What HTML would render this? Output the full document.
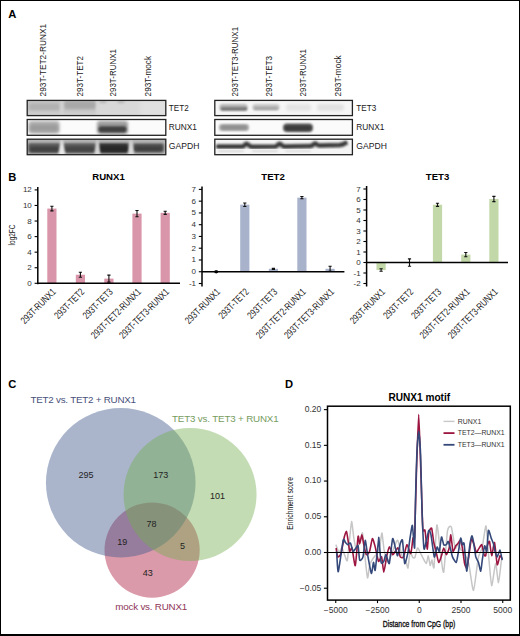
<!DOCTYPE html>
<html><head><meta charset="utf-8"><style>
html,body{margin:0;padding:0;background:#fff;}
body{width:520px;height:636px;position:relative;overflow:hidden;font-family:"Liberation Sans", sans-serif;}
.frame{position:absolute;left:0;top:0;width:520px;height:636px;box-sizing:border-box;border:1px solid #000;border-left-width:1.6px;border-bottom-width:2px;border-right-width:1.3px;}
</style></head><body>
<svg width="520" height="636" viewBox="0 0 520 636" style="position:absolute;left:0;top:0" font-family='"Liberation Sans", sans-serif'>
<defs><filter id="b9" x="-50%" y="-50%" width="200%" height="200%"><feGaussianBlur stdDeviation="0.9"/></filter><filter id="b10" x="-50%" y="-50%" width="200%" height="200%"><feGaussianBlur stdDeviation="1.0"/></filter><filter id="b11" x="-50%" y="-50%" width="200%" height="200%"><feGaussianBlur stdDeviation="1.1"/></filter><filter id="b12" x="-50%" y="-50%" width="200%" height="200%"><feGaussianBlur stdDeviation="1.2"/></filter><filter id="b13" x="-50%" y="-50%" width="200%" height="200%"><feGaussianBlur stdDeviation="1.3"/></filter><filter id="b14" x="-50%" y="-50%" width="200%" height="200%"><feGaussianBlur stdDeviation="1.4"/></filter><filter id="b15" x="-50%" y="-50%" width="200%" height="200%"><feGaussianBlur stdDeviation="1.5"/></filter><filter id="b16" x="-50%" y="-50%" width="200%" height="200%"><feGaussianBlur stdDeviation="1.6"/></filter><filter id="b18" x="-50%" y="-50%" width="200%" height="200%"><feGaussianBlur stdDeviation="1.8"/></filter><filter id="b20" x="-50%" y="-50%" width="200%" height="200%"><feGaussianBlur stdDeviation="2.0"/></filter></defs>
<text x="8.2" y="17.6" font-size="11.2" text-anchor="start" font-weight="bold" fill="#000" >A</text><text transform="translate(46.3,96.4) rotate(-90)" font-size="9.2" fill="#1a1a1a" textLength="72.50" lengthAdjust="spacingAndGlyphs">293T-TET2-RUNX1</text><text transform="translate(82.5,96.4) rotate(-90)" font-size="9.2" fill="#1a1a1a" textLength="40.40" lengthAdjust="spacingAndGlyphs">293T-TET2</text><text transform="translate(116.1,96.4) rotate(-90)" font-size="9.2" fill="#1a1a1a" textLength="47.30" lengthAdjust="spacingAndGlyphs">293T-RUNX1</text><text transform="translate(151.3,96.4) rotate(-90)" font-size="9.2" fill="#1a1a1a" textLength="40.40" lengthAdjust="spacingAndGlyphs">293T-mock</text><clipPath id="c27_100"><rect x="27.2" y="100.4" width="138.60000000000002" height="15.199999999999989"/></clipPath><g clip-path="url(#c27_100)"><rect x="27.2" y="100" width="140" height="16" fill="#d8d8d8"/><rect x="26" y="99" width="71" height="18" rx="0" fill="#c4c4c4" filter="url(#b18)"/><rect x="29" y="103.5" width="31" height="7" rx="3" fill="#b0b0b0" filter="url(#b18)"/><rect x="64" y="101" width="32" height="8" rx="3" fill="#a8a8a8" filter="url(#b18)"/><rect x="26" y="111.5" width="72" height="6" rx="0" fill="#cdcdcd" filter="url(#b14)"/><path d="M60.55 99L63.05 99L63.8 117L59.8 117Z" fill="#d3d3d3" filter="url(#b12)"/><path d="M96.5 99L98.5 99L99.0 117L96.0 117Z" fill="#d8d8d8" filter="url(#b12)"/><ellipse cx="103" cy="101.8" rx="4" ry="1.6" fill="#bababa" filter="url(#b10)"/><ellipse cx="121" cy="101.8" rx="4" ry="1.6" fill="#bababa" filter="url(#b10)"/><rect x="140" y="99" width="30" height="18" rx="0" fill="#e0e0e0" filter="url(#b20)"/></g><rect x="27.2" y="100.4" width="138.60000000000002" height="15.199999999999989" fill="none" stroke="#222" stroke-width="1.3"/><text x="168.8" y="110.50" font-size="9" fill="#1a1a1a" textLength="19.9" lengthAdjust="spacingAndGlyphs">TET2</text><clipPath id="c27_119"><rect x="27.2" y="119.5" width="138.60000000000002" height="15.800000000000011"/></clipPath><g clip-path="url(#c27_119)"><rect x="27.2" y="119" width="140" height="17" fill="#fbfbfb"/><rect x="28.5" y="121" width="31" height="12.5" rx="3" fill="#b0b0b0" filter="url(#b16)"/><rect x="30" y="124.5" width="28" height="7" rx="3" fill="#9c9c9c" filter="url(#b14)"/><rect x="97" y="121" width="31" height="13" rx="3" fill="#9c9c9c" filter="url(#b15)"/><rect x="98.5" y="126.2" width="28" height="6.3" rx="3" fill="#404040" filter="url(#b13)"/></g><rect x="27.2" y="119.5" width="138.60000000000002" height="15.800000000000011" fill="none" stroke="#222" stroke-width="1.3"/><text x="168.8" y="129.90" font-size="9" fill="#1a1a1a" textLength="28.2" lengthAdjust="spacingAndGlyphs">RUNX1</text><clipPath id="c27_139"><rect x="27.2" y="139.2" width="138.60000000000002" height="15.5"/></clipPath><g clip-path="url(#c27_139)"><rect x="27.2" y="139" width="140" height="16" fill="#bcbcbc"/><rect x="28" y="142.5" width="33" height="10.5" rx="2" fill="#5a5a5a" filter="url(#b15)"/><rect x="63" y="142.5" width="33" height="10.5" rx="2" fill="#5c5c5c" filter="url(#b15)"/><rect x="98" y="142.5" width="31" height="10.5" rx="2" fill="#363636" filter="url(#b15)"/><rect x="133" y="143" width="31" height="9.5" rx="2" fill="#505050" filter="url(#b15)"/><rect x="26" y="138" width="142" height="4.2" rx="0" fill="#b2b2b2" filter="url(#b13)"/><rect x="30" y="146.5" width="29" height="5.5" rx="2" fill="#424242" filter="url(#b13)"/><rect x="65" y="146.5" width="29" height="5.5" rx="2" fill="#444444" filter="url(#b13)"/><rect x="100" y="146" width="27" height="6" rx="2" fill="#262626" filter="url(#b13)"/><rect x="135" y="146.5" width="27" height="4.5" rx="2" fill="#404040" filter="url(#b13)"/><path d="M61.3 139L62.3 139L65.55 156L58.05 156Z" fill="#e8e8e8" filter="url(#b10)"/><path d="M97.0 139L98.0 139L100.5 156L94.5 156Z" fill="#d8d8d8" filter="url(#b10)"/><path d="M130.5 139L131.5 139L134.0 156L128.0 156Z" fill="#dcdcdc" filter="url(#b10)"/></g><rect x="27.2" y="139.2" width="138.60000000000002" height="15.5" fill="none" stroke="#222" stroke-width="1.3"/><text x="168.8" y="149.45" font-size="9" fill="#1a1a1a" textLength="30.6" lengthAdjust="spacingAndGlyphs">GAPDH</text><text transform="translate(238.4,96.4) rotate(-90)" font-size="9.2" fill="#1a1a1a" textLength="69.50" lengthAdjust="spacingAndGlyphs">293T-TET3-RUNX1</text><text transform="translate(271.9,96.4) rotate(-90)" font-size="9.2" fill="#1a1a1a" textLength="40.50" lengthAdjust="spacingAndGlyphs">293T-TET3</text><text transform="translate(306.1,96.4) rotate(-90)" font-size="9.2" fill="#1a1a1a" textLength="47.30" lengthAdjust="spacingAndGlyphs">293T-RUNX1</text><text transform="translate(341.3,96.4) rotate(-90)" font-size="9.2" fill="#1a1a1a" textLength="41.10" lengthAdjust="spacingAndGlyphs">293T-mock</text><clipPath id="c214_100"><rect x="214.8" y="100.4" width="137.59999999999997" height="15.199999999999989"/></clipPath><g clip-path="url(#c214_100)"><rect x="214.8" y="100" width="140" height="16" fill="#f6f6f6"/><rect x="219.5" y="104" width="28" height="7" rx="3" fill="#b4b4b4" filter="url(#b13)"/><rect x="221" y="107.6" width="26" height="2.6" rx="1" fill="#6c6c6c" filter="url(#b9)"/><rect x="252.5" y="104" width="27" height="6.5" rx="3" fill="#c4c4c4" filter="url(#b13)"/><rect x="254" y="107.2" width="24" height="2.4" rx="1" fill="#9c9c9c" filter="url(#b9)"/><rect x="286" y="104" width="25" height="7" rx="3" fill="#e4e4e4" filter="url(#b14)"/><rect x="317" y="104" width="27" height="7" rx="3" fill="#e2e2e2" filter="url(#b14)"/></g><rect x="214.8" y="100.4" width="137.59999999999997" height="15.199999999999989" fill="none" stroke="#222" stroke-width="1.3"/><text x="356.29999999999995" y="110.50" font-size="9" fill="#1a1a1a" textLength="19.9" lengthAdjust="spacingAndGlyphs">TET3</text><clipPath id="c214_119"><rect x="214.8" y="119.5" width="137.59999999999997" height="15.800000000000011"/></clipPath><g clip-path="url(#c214_119)"><rect x="214.8" y="119" width="140" height="17" fill="#fbfbfb"/><rect x="219" y="124" width="30" height="7" rx="3" fill="#a8a8a8" filter="url(#b12)"/><rect x="221" y="125.5" width="26" height="4" rx="2" fill="#8e8e8e" filter="url(#b9)"/><rect x="283" y="123.5" width="30" height="8.5" rx="4" fill="#5c5c5c" filter="url(#b11)"/><rect x="285" y="125.5" width="26" height="5" rx="2" fill="#383838" filter="url(#b10)"/></g><rect x="214.8" y="119.5" width="137.59999999999997" height="15.800000000000011" fill="none" stroke="#222" stroke-width="1.3"/><text x="356.29999999999995" y="129.90" font-size="9" fill="#1a1a1a" textLength="28.2" lengthAdjust="spacingAndGlyphs">RUNX1</text><clipPath id="c214_139"><rect x="214.8" y="139.2" width="137.59999999999997" height="15.5"/></clipPath><g clip-path="url(#c214_139)"><rect x="214.8" y="139" width="140" height="16" fill="#f5f5f5"/><path d="M216.5 146.6 L242.5 146.6 C244.5 146.2 245 143.8 246.5 143.8 C248 143.8 249 146.4 251.5 146.7 L275.5 146.5 C277.5 146.1 278 143.8 279.5 143.8 C281 143.8 282 146.2 284.5 146.5 L311 146.1 C313 145.7 313.5 143.6 315 143.6 C316.5 143.6 317.5 145.6 320 145.6 L340 145 C343 144.6 345 143.5 347 142.2" fill="none" stroke="#a0a0a0" stroke-width="5.5" filter="url(#b11)"/><path d="M216.5 146.6 L242.5 146.6 C244.5 146.2 245 143.8 246.5 143.8 C248 143.8 249 146.4 251.5 146.7 L275.5 146.5 C277.5 146.1 278 143.8 279.5 143.8 C281 143.8 282 146.2 284.5 146.5 L311 146.1 C313 145.7 313.5 143.6 315 143.6 C316.5 143.6 317.5 145.6 320 145.6 L340 145 C343 144.6 345 143.5 347 142.2" fill="none" stroke="#2c2c2c" stroke-width="3.0" filter="url(#b9)"/><rect x="218" y="150.3" width="26" height="1.6" rx="0.8" fill="#d4d4d4" filter="url(#b9)"/><rect x="252" y="150.3" width="26" height="1.6" rx="0.8" fill="#d4d4d4" filter="url(#b9)"/><rect x="285" y="150.3" width="26" height="1.6" rx="0.8" fill="#d8d8d8" filter="url(#b9)"/></g><rect x="214.8" y="139.2" width="137.59999999999997" height="15.5" fill="none" stroke="#222" stroke-width="1.3"/><text x="356.29999999999995" y="149.45" font-size="9" fill="#1a1a1a" textLength="30.6" lengthAdjust="spacingAndGlyphs">GAPDH</text><text x="8.2" y="181.3" font-size="11.2" text-anchor="start" font-weight="bold" fill="#000" >B</text><rect x="47.3" y="208.58" width="9.2" height="74.72" fill="#d995a9"/><path d="M51.9 206.245V210.91500000000002M50.3 206.245H53.5M50.3 210.91500000000002H53.5" stroke="#111" stroke-width="1.1" fill="none"/><rect x="75.80000000000001" y="274.73833333333334" width="9.2" height="8.561666666666667" fill="#d995a9"/><path d="M80.4 272.2476666666667V277.229M78.80000000000001 272.2476666666667H82.0M78.80000000000001 277.229H82.0" stroke="#111" stroke-width="1.1" fill="none"/><rect x="104.30000000000001" y="278.63" width="9.2" height="4.670000000000016" fill="#d995a9"/><path d="M108.9 275.1275V282.1325M107.30000000000001 275.1275H110.5M107.30000000000001 282.1325H110.5" stroke="#111" stroke-width="1.1" fill="none"/><rect x="132.4" y="213.63916666666668" width="9.2" height="69.66083333333333" fill="#d995a9"/><path d="M137.0 210.52583333333334V216.7525M135.4 210.52583333333334H138.6M135.4 216.7525H138.6" stroke="#111" stroke-width="1.1" fill="none"/><rect x="160.6" y="212.86083333333335" width="9.2" height="70.43916666666667" fill="#d995a9"/><path d="M165.2 211.30416666666667V214.4175M163.6 211.30416666666667H166.79999999999998M163.6 214.4175H166.79999999999998" stroke="#111" stroke-width="1.1" fill="none"/><path d="M37.8 186.9V284.3" stroke="#000" stroke-width="1.5"/><path d="M37.8 283.3H180" stroke="#000" stroke-width="1.5"/><path d="M34.599999999999994 283.3H37.8" stroke="#000" stroke-width="1.1"/><text x="31.799999999999997" y="285.8" font-size="8" text-anchor="end" font-weight="normal" fill="#333" >0</text><path d="M34.599999999999994 267.73333333333335H37.8" stroke="#000" stroke-width="1.1"/><text x="31.799999999999997" y="270.23333333333335" font-size="8" text-anchor="end" font-weight="normal" fill="#333" >2</text><path d="M34.599999999999994 252.16666666666669H37.8" stroke="#000" stroke-width="1.1"/><text x="31.799999999999997" y="254.66666666666669" font-size="8" text-anchor="end" font-weight="normal" fill="#333" >4</text><path d="M34.599999999999994 236.60000000000002H37.8" stroke="#000" stroke-width="1.1"/><text x="31.799999999999997" y="239.10000000000002" font-size="8" text-anchor="end" font-weight="normal" fill="#333" >6</text><path d="M34.599999999999994 221.03333333333333H37.8" stroke="#000" stroke-width="1.1"/><text x="31.799999999999997" y="223.53333333333333" font-size="8" text-anchor="end" font-weight="normal" fill="#333" >8</text><path d="M34.599999999999994 205.46666666666667H37.8" stroke="#000" stroke-width="1.1"/><text x="31.799999999999997" y="207.96666666666667" font-size="8" text-anchor="end" font-weight="normal" fill="#333" >10</text><path d="M34.599999999999994 189.9H37.8" stroke="#000" stroke-width="1.1"/><text x="31.799999999999997" y="192.4" font-size="8" text-anchor="end" font-weight="normal" fill="#333" >12</text><text x="108.5" y="179.8" font-size="9.6" text-anchor="middle" font-weight="bold" fill="#000" >RUNX1</text><path d="M216.2 271.149375V272.325625M214.6 271.149375H217.79999999999998M214.6 272.325625H217.79999999999998" stroke="#111" stroke-width="1.1" fill="none"/><rect x="240.20000000000002" y="204.69125" width="9.2" height="67.04625000000001" fill="#a9b2cb"/><path d="M244.8 202.926875V206.455625M243.20000000000002 202.926875H246.4M243.20000000000002 206.455625H246.4" stroke="#111" stroke-width="1.1" fill="none"/><rect x="268.79999999999995" y="268.796875" width="9.2" height="2.9406250000000114" fill="#a9b2cb"/><path d="M273.4 268.20875V269.385M271.79999999999995 268.20875H275.0M271.79999999999995 269.385H275.0" stroke="#111" stroke-width="1.1" fill="none"/><rect x="297.29999999999995" y="197.63375000000002" width="9.2" height="74.10374999999999" fill="#a9b2cb"/><path d="M301.9 196.4575V198.81M300.29999999999995 196.4575H303.5M300.29999999999995 198.81H303.5" stroke="#111" stroke-width="1.1" fill="none"/><rect x="325.5" y="268.796875" width="9.2" height="2.9406250000000114" fill="#a9b2cb"/><path d="M330.1 266.209125V271.384625M328.5 266.209125H331.70000000000005M328.5 271.384625H331.70000000000005" stroke="#111" stroke-width="1.1" fill="none"/><path d="M202 186.4V286.5" stroke="#000" stroke-width="1.5"/><path d="M202 271.7375H344.4" stroke="#000" stroke-width="1.5"/><path d="M198.8 283.5H202" stroke="#000" stroke-width="1.1"/><text x="196" y="286.0" font-size="8" text-anchor="end" font-weight="normal" fill="#333" >-1</text><path d="M198.8 271.7375H202" stroke="#000" stroke-width="1.1"/><text x="196" y="274.2375" font-size="8" text-anchor="end" font-weight="normal" fill="#333" >0</text><path d="M198.8 259.975H202" stroke="#000" stroke-width="1.1"/><text x="196" y="262.475" font-size="8" text-anchor="end" font-weight="normal" fill="#333" >1</text><path d="M198.8 248.2125H202" stroke="#000" stroke-width="1.1"/><text x="196" y="250.7125" font-size="8" text-anchor="end" font-weight="normal" fill="#333" >2</text><path d="M198.8 236.45H202" stroke="#000" stroke-width="1.1"/><text x="196" y="238.95" font-size="8" text-anchor="end" font-weight="normal" fill="#333" >3</text><path d="M198.8 224.6875H202" stroke="#000" stroke-width="1.1"/><text x="196" y="227.1875" font-size="8" text-anchor="end" font-weight="normal" fill="#333" >4</text><path d="M198.8 212.925H202" stroke="#000" stroke-width="1.1"/><text x="196" y="215.425" font-size="8" text-anchor="end" font-weight="normal" fill="#333" >5</text><path d="M198.8 201.16250000000002H202" stroke="#000" stroke-width="1.1"/><text x="196" y="203.66250000000002" font-size="8" text-anchor="end" font-weight="normal" fill="#333" >6</text><path d="M198.8 189.4H202" stroke="#000" stroke-width="1.1"/><text x="196" y="191.9" font-size="8" text-anchor="end" font-weight="normal" fill="#333" >7</text><text x="273" y="179.8" font-size="9.6" text-anchor="middle" font-weight="bold" fill="#000" >TET2</text><rect x="376.5" y="262.5" width="9.2" height="7.560000000000002" fill="#c2d8a9"/><path d="M381.1 268.8V271.32M379.5 268.8H382.70000000000005M379.5 271.32H382.70000000000005" stroke="#111" stroke-width="1.1" fill="none"/><path d="M409.5 258.825V266.175M407.9 258.825H411.1M407.9 266.175H411.1" stroke="#111" stroke-width="1.1" fill="none"/><rect x="432.9" y="204.75" width="9.2" height="57.75" fill="#c2d8a9"/><path d="M437.5 203.175V206.325M435.9 203.175H439.1M435.9 206.325H439.1" stroke="#111" stroke-width="1.1" fill="none"/><rect x="461.2" y="254.625" width="9.2" height="7.875" fill="#c2d8a9"/><path d="M465.8 252.525V256.725M464.2 252.525H467.40000000000003M464.2 256.725H467.40000000000003" stroke="#111" stroke-width="1.1" fill="none"/><rect x="489.29999999999995" y="198.975" width="9.2" height="63.525000000000006" fill="#c2d8a9"/><path d="M493.9 196.35V201.60000000000002M492.29999999999995 196.35H495.5M492.29999999999995 201.60000000000002H495.5" stroke="#111" stroke-width="1.1" fill="none"/><path d="M366.6 186.0V286.5" stroke="#000" stroke-width="1.5"/><path d="M366.6 262.5H508" stroke="#000" stroke-width="1.5"/><path d="M363.40000000000003 283.5H366.6" stroke="#000" stroke-width="1.1"/><text x="360.6" y="286.0" font-size="8" text-anchor="end" font-weight="normal" fill="#333" >-2</text><path d="M363.40000000000003 273.0H366.6" stroke="#000" stroke-width="1.1"/><text x="360.6" y="275.5" font-size="8" text-anchor="end" font-weight="normal" fill="#333" >-1</text><path d="M363.40000000000003 262.5H366.6" stroke="#000" stroke-width="1.1"/><text x="360.6" y="265.0" font-size="8" text-anchor="end" font-weight="normal" fill="#333" >0</text><path d="M363.40000000000003 252.0H366.6" stroke="#000" stroke-width="1.1"/><text x="360.6" y="254.5" font-size="8" text-anchor="end" font-weight="normal" fill="#333" >1</text><path d="M363.40000000000003 241.5H366.6" stroke="#000" stroke-width="1.1"/><text x="360.6" y="244.0" font-size="8" text-anchor="end" font-weight="normal" fill="#333" >2</text><path d="M363.40000000000003 231.0H366.6" stroke="#000" stroke-width="1.1"/><text x="360.6" y="233.5" font-size="8" text-anchor="end" font-weight="normal" fill="#333" >3</text><path d="M363.40000000000003 220.5H366.6" stroke="#000" stroke-width="1.1"/><text x="360.6" y="223.0" font-size="8" text-anchor="end" font-weight="normal" fill="#333" >4</text><path d="M363.40000000000003 210.0H366.6" stroke="#000" stroke-width="1.1"/><text x="360.6" y="212.5" font-size="8" text-anchor="end" font-weight="normal" fill="#333" >5</text><path d="M363.40000000000003 199.5H366.6" stroke="#000" stroke-width="1.1"/><text x="360.6" y="202.0" font-size="8" text-anchor="end" font-weight="normal" fill="#333" >6</text><path d="M363.40000000000003 189.0H366.6" stroke="#000" stroke-width="1.1"/><text x="360.6" y="191.5" font-size="8" text-anchor="end" font-weight="normal" fill="#333" >7</text><text x="437.5" y="179.8" font-size="9.6" text-anchor="middle" font-weight="bold" fill="#000" >TET3</text><circle cx="216.2" cy="271.8" r="1.6" fill="#000"/><text transform="translate(15.4,235) rotate(-90)" font-size="8.2" text-anchor="middle" fill="#222" textLength="20.8" lengthAdjust="spacingAndGlyphs">log2FC</text><text transform="translate(56.5,292.6) rotate(-45)" font-size="10" text-anchor="end" fill="#222" textLength="45.01" lengthAdjust="spacingAndGlyphs">293T-RUNX1</text><text transform="translate(85.0,292.6) rotate(-45)" font-size="10" text-anchor="end" fill="#222" textLength="37.93" lengthAdjust="spacingAndGlyphs">293T-TET2</text><text transform="translate(113.5,292.6) rotate(-45)" font-size="10" text-anchor="end" fill="#222" textLength="37.93" lengthAdjust="spacingAndGlyphs">293T-TET3</text><text transform="translate(141.6,292.6) rotate(-45)" font-size="10" text-anchor="end" fill="#222" textLength="65.85" lengthAdjust="spacingAndGlyphs">293T-TET2-RUNX1</text><text transform="translate(169.79999999999998,292.6) rotate(-45)" font-size="10" text-anchor="end" fill="#222" textLength="65.85" lengthAdjust="spacingAndGlyphs">293T-TET3-RUNX1</text><text transform="translate(220.79999999999998,292.6) rotate(-45)" font-size="10" text-anchor="end" fill="#222" textLength="45.01" lengthAdjust="spacingAndGlyphs">293T-RUNX1</text><text transform="translate(249.4,292.6) rotate(-45)" font-size="10" text-anchor="end" fill="#222" textLength="37.93" lengthAdjust="spacingAndGlyphs">293T-TET2</text><text transform="translate(278.0,292.6) rotate(-45)" font-size="10" text-anchor="end" fill="#222" textLength="37.93" lengthAdjust="spacingAndGlyphs">293T-TET3</text><text transform="translate(306.5,292.6) rotate(-45)" font-size="10" text-anchor="end" fill="#222" textLength="65.85" lengthAdjust="spacingAndGlyphs">293T-TET2-RUNX1</text><text transform="translate(334.70000000000005,292.6) rotate(-45)" font-size="10" text-anchor="end" fill="#222" textLength="65.85" lengthAdjust="spacingAndGlyphs">293T-TET3-RUNX1</text><text transform="translate(385.70000000000005,292.6) rotate(-45)" font-size="10" text-anchor="end" fill="#222" textLength="45.01" lengthAdjust="spacingAndGlyphs">293T-RUNX1</text><text transform="translate(414.1,292.6) rotate(-45)" font-size="10" text-anchor="end" fill="#222" textLength="37.93" lengthAdjust="spacingAndGlyphs">293T-TET2</text><text transform="translate(442.1,292.6) rotate(-45)" font-size="10" text-anchor="end" fill="#222" textLength="37.93" lengthAdjust="spacingAndGlyphs">293T-TET3</text><text transform="translate(470.40000000000003,292.6) rotate(-45)" font-size="10" text-anchor="end" fill="#222" textLength="65.85" lengthAdjust="spacingAndGlyphs">293T-TET2-RUNX1</text><text transform="translate(498.5,292.6) rotate(-45)" font-size="10" text-anchor="end" fill="#222" textLength="65.85" lengthAdjust="spacingAndGlyphs">293T-TET3-RUNX1</text><text x="8.2" y="388.3" font-size="11.2" text-anchor="start" font-weight="bold" fill="#000" >C</text><circle cx="152.1" cy="550.1" r="47.6" fill="rgb(218,154,169)"/><circle cx="120.75" cy="482.75" r="74.8" fill="rgb(66,91,142)" fill-opacity="0.45"/><circle cx="190.05" cy="494.5" r="66.5" fill="rgb(115,174,78)" fill-opacity="0.43"/><text x="30.4" y="402.6" font-size="9.8" text-anchor="start" font-weight="normal" fill="#48507a" letter-spacing="-0.22" >TET2 vs. TET2 + RUNX1</text><text x="172.0" y="422.2" font-size="9.8" text-anchor="start" font-weight="normal" fill="#769c60" letter-spacing="-0.17" >TET3 vs. TET3 + RUNX1</text><text x="115.3" y="610.3" font-size="9.8" text-anchor="start" font-weight="normal" fill="#8e3558" letter-spacing="-0.2" >mock vs. RUNX1</text><text x="86" y="477.6" font-size="9" text-anchor="middle" font-weight="normal" fill="#222" >295</text><text x="160.8" y="477.8" font-size="9" text-anchor="middle" font-weight="normal" fill="#222" >173</text><text x="217.5" y="498.8" font-size="9" text-anchor="middle" font-weight="normal" fill="#222" >101</text><text x="151.6" y="527" font-size="9" text-anchor="middle" font-weight="normal" fill="#222" >78</text><text x="122.3" y="545" font-size="9" text-anchor="middle" font-weight="normal" fill="#222" >19</text><text x="182.5" y="548.5" font-size="9" text-anchor="middle" font-weight="normal" fill="#222" >5</text><text x="147.8" y="576.2" font-size="9" text-anchor="middle" font-weight="normal" fill="#222" >43</text><text x="285.0" y="388.1" font-size="11.2" text-anchor="start" font-weight="bold" fill="#000" >D</text><text x="419.3" y="400.5" font-size="10.1" text-anchor="middle" font-weight="bold" fill="#000" >RUNX1 motif</text><clipPath id="plotclip"><rect x="327.5" y="406.2" width="182.8" height="193.90000000000003"/></clipPath><g clip-path="url(#plotclip)" fill="none" stroke-linejoin="round"><path d="M335.80 544.60 C336.12 545.34 338.38 551.66 339.00 552.00 C339.62 552.34 341.40 547.60 342.00 548.00 C342.60 548.40 344.47 554.75 345.00 556.00 C345.53 557.25 346.85 562.10 347.30 560.50 C347.75 558.90 349.07 543.90 349.50 540.00 C349.93 536.10 351.17 521.70 351.60 521.50 C352.03 521.30 353.36 535.35 353.80 538.00 C354.24 540.65 355.53 547.30 356.00 548.00 C356.47 548.70 358.05 545.80 358.50 545.00 C358.95 544.20 360.10 541.20 360.50 540.00 C360.90 538.80 362.09 531.70 362.50 533.00 C362.91 534.30 364.10 548.52 364.60 553.00 C365.10 557.48 366.99 576.60 367.50 577.80 C368.01 579.00 369.12 566.98 369.70 565.00 C370.28 563.02 372.51 559.20 373.30 558.00 C374.09 556.80 376.93 554.30 377.60 553.00 C378.27 551.70 379.56 547.00 380.00 545.00 C380.44 543.00 381.59 532.50 382.00 533.00 C382.41 533.50 383.53 547.10 384.10 550.00 C384.67 552.90 386.91 561.70 387.70 562.00 C388.49 562.30 391.27 554.70 392.00 553.00 C392.73 551.30 394.42 546.27 395.00 545.00 C395.58 543.73 397.09 539.20 397.80 540.30 C398.51 541.40 401.28 553.83 402.10 556.00 C402.92 558.17 405.41 560.80 406.00 562.00 C406.59 563.20 407.60 569.00 408.00 568.00 C408.40 567.00 409.55 553.10 410.00 552.00 C410.45 550.90 412.02 556.43 412.50 557.00 C412.98 557.57 414.30 558.60 414.80 557.70 C415.30 556.80 416.98 548.57 417.50 548.00 C418.02 547.43 419.45 551.00 420.00 552.00 C420.55 553.00 422.37 556.85 423.00 558.00 C423.63 559.15 425.77 563.72 426.30 563.50 C426.83 563.28 427.91 555.61 428.30 555.80 C428.69 555.99 429.83 564.98 430.20 565.40 C430.57 565.82 431.62 559.81 432.00 560.00 C432.38 560.19 433.51 570.80 434.00 567.30 C434.49 563.80 436.22 526.15 436.90 525.00 C437.58 523.85 440.12 551.10 440.80 555.80 C441.48 560.50 443.03 574.50 443.70 572.00 C444.37 569.50 446.74 535.30 447.50 530.80 C448.26 526.30 450.53 525.28 451.30 527.00 C452.07 528.72 454.53 546.28 455.20 548.00 C455.87 549.72 457.42 544.00 458.00 544.20 C458.58 544.40 460.42 549.22 461.00 550.00 C461.58 550.78 463.03 550.65 463.80 552.00 C464.57 553.35 467.73 559.66 468.70 563.50 C469.67 567.34 472.54 590.98 473.50 590.40 C474.46 589.82 477.44 561.94 478.30 557.70 C479.16 553.46 481.33 551.17 482.10 548.00 C482.87 544.83 485.33 525.03 486.00 526.00 C486.67 526.97 488.23 551.74 488.80 557.70 C489.37 563.66 491.02 585.02 491.70 585.60 C492.38 586.18 494.92 563.79 495.60 563.50 C496.28 563.21 497.93 582.90 498.50 582.70 C499.07 582.50 500.90 563.97 501.30 561.50 C501.70 559.03 502.38 558.35 502.50 558.00" stroke="#c6c6c6" stroke-width="1.5"/><path d="M336.10 548.00 C336.26 548.89 337.21 556.35 337.70 556.90 C338.19 557.45 340.34 555.49 341.00 553.50 C341.66 551.51 343.75 539.20 344.30 537.00 C344.85 534.80 346.11 531.06 346.50 531.50 C346.89 531.94 347.87 539.42 348.20 541.40 C348.53 543.38 349.42 550.64 349.80 551.30 C350.18 551.96 351.45 546.56 352.00 548.00 C352.55 549.44 354.69 566.85 355.30 565.70 C355.91 564.55 357.66 538.71 358.10 536.50 C358.54 534.29 359.32 543.77 359.70 543.60 C360.08 543.43 361.51 534.80 361.90 534.80 C362.29 534.80 363.16 541.62 363.60 543.60 C364.04 545.58 365.70 553.83 366.30 554.60 C366.90 555.37 368.99 552.89 369.60 551.30 C370.21 549.71 371.84 539.14 372.40 538.70 C372.96 538.26 374.59 544.64 375.20 546.90 C375.81 549.16 377.86 560.30 378.50 561.30 C379.14 562.30 381.07 555.80 381.60 556.90 C382.13 558.00 383.30 572.30 383.80 572.30 C384.30 572.30 386.05 559.44 386.60 556.90 C387.15 554.36 388.70 547.13 389.30 546.90 C389.90 546.67 391.99 554.16 392.60 554.60 C393.21 555.04 394.85 551.96 395.40 551.30 C395.95 550.64 397.61 547.44 398.10 548.00 C398.59 548.56 399.75 556.01 400.30 556.90 C400.85 557.79 402.94 558.12 403.60 556.90 C404.26 555.68 406.18 545.04 406.90 544.70 C407.62 544.36 410.19 554.16 410.80 553.50 C411.41 552.84 412.62 539.75 413.00 538.10 C413.38 536.45 414.25 543.81 414.60 537.00 C414.95 530.19 416.09 482.26 416.50 470.00 C416.91 457.74 418.27 414.40 418.70 414.40 C419.13 414.40 420.39 458.62 420.80 470.00 C421.21 481.38 422.38 522.16 422.80 528.20 C423.22 534.24 424.56 528.31 425.00 530.40 C425.44 532.49 426.82 548.88 427.20 549.10 C427.58 549.32 428.36 534.69 428.80 532.60 C429.24 530.51 431.10 527.21 431.60 528.20 C432.10 529.19 433.36 540.19 433.80 542.50 C434.24 544.81 435.51 549.31 436.00 551.30 C436.49 553.29 438.15 561.96 438.70 562.40 C439.25 562.84 441.00 557.14 441.50 555.70 C442.00 554.26 443.21 548.11 443.70 548.00 C444.19 547.89 445.85 554.60 446.40 554.60 C446.95 554.60 448.76 549.98 449.20 548.00 C449.64 546.02 450.42 534.47 450.80 534.80 C451.18 535.13 452.50 550.20 453.00 551.30 C453.50 552.40 455.30 546.57 455.80 545.80 C456.30 545.03 457.56 544.15 458.00 543.60 C458.44 543.05 459.76 539.86 460.20 540.30 C460.64 540.74 461.96 545.68 462.40 548.00 C462.84 550.32 464.14 561.51 464.60 563.50 C465.06 565.49 466.54 568.90 467.00 567.90 C467.46 566.90 468.76 556.37 469.20 553.50 C469.64 550.63 470.91 540.08 471.40 539.20 C471.89 538.32 473.61 543.38 474.10 544.70 C474.59 546.02 475.86 551.96 476.30 552.40 C476.74 552.84 477.95 549.87 478.50 549.10 C479.05 548.33 481.25 544.15 481.80 544.70 C482.35 545.25 483.61 553.50 484.00 554.60 C484.39 555.70 485.37 556.58 485.70 555.70 C486.03 554.82 486.92 547.23 487.30 545.80 C487.68 544.37 489.06 540.41 489.50 541.40 C489.94 542.39 491.20 555.59 491.70 555.70 C492.20 555.81 493.95 541.61 494.50 542.50 C495.05 543.39 496.65 563.28 497.20 564.60 C497.75 565.92 499.50 556.25 500.00 555.70 C500.50 555.15 501.98 558.76 502.20 559.10" stroke="#9c1540" stroke-width="1.6"/><path d="M336.60 551.30 C336.77 553.34 337.64 572.80 338.30 571.70 C338.96 570.60 342.49 543.22 343.20 540.30 C343.91 537.38 344.96 542.06 345.40 542.50 C345.84 542.94 347.10 544.64 347.60 544.70 C348.10 544.76 349.85 542.44 350.40 543.10 C350.95 543.76 352.55 550.81 353.10 551.30 C353.65 551.79 355.40 548.55 355.90 548.00 C356.40 547.45 357.72 544.58 358.10 545.80 C358.48 547.02 359.21 559.09 359.70 560.20 C360.19 561.31 362.45 558.89 363.00 556.90 C363.55 554.91 364.76 540.64 365.20 540.30 C365.64 539.96 366.79 550.19 367.40 553.50 C368.01 556.81 370.69 572.51 371.30 573.40 C371.91 574.29 373.11 562.73 373.50 562.40 C373.89 562.07 374.70 572.31 375.20 570.10 C375.70 567.89 378.13 543.44 378.50 540.30 C378.87 537.16 378.64 536.49 378.90 538.70 C379.16 540.91 380.61 560.14 381.10 562.40 C381.59 564.66 383.31 562.08 383.80 561.30 C384.29 560.52 385.45 554.38 386.00 554.60 C386.55 554.82 388.64 565.09 389.30 563.50 C389.96 561.91 391.99 540.25 392.60 538.70 C393.21 537.15 394.90 546.30 395.40 548.00 C395.90 549.70 397.11 556.14 397.60 555.70 C398.09 555.26 399.81 545.14 400.30 543.60 C400.79 542.06 402.06 538.31 402.50 540.30 C402.94 542.29 404.15 562.29 404.70 563.50 C405.25 564.71 407.45 555.05 408.00 552.40 C408.55 549.75 409.76 539.69 410.20 537.00 C410.64 534.31 411.96 524.40 412.40 525.50 C412.84 526.60 414.29 550.55 414.60 548.00 C414.91 545.45 415.28 509.30 415.50 500.00 C415.72 490.70 416.48 461.86 416.80 455.00 C417.12 448.14 418.32 431.40 418.70 431.40 C419.08 431.40 420.27 447.14 420.60 455.00 C420.93 462.86 421.67 500.70 422.00 510.00 C422.33 519.30 423.55 544.53 423.90 548.00 C424.25 551.47 425.01 546.46 425.50 544.70 C425.99 542.94 428.25 531.39 428.80 530.40 C429.35 529.41 430.45 532.15 431.00 534.80 C431.55 537.45 433.69 555.68 434.30 556.90 C434.91 558.12 436.60 547.56 437.10 547.00 C437.60 546.44 438.86 552.30 439.30 551.30 C439.74 550.30 441.06 537.66 441.50 537.00 C441.94 536.34 443.21 543.93 443.70 544.70 C444.19 545.47 445.96 545.03 446.40 544.70 C446.84 544.37 447.71 541.07 448.10 541.40 C448.49 541.73 449.86 546.45 450.30 548.00 C450.74 549.55 451.90 555.46 452.50 556.90 C453.10 558.34 455.70 562.96 456.30 562.40 C456.90 561.84 458.06 553.73 458.50 551.30 C458.94 548.87 460.31 538.76 460.70 538.10 C461.09 537.44 462.06 544.15 462.40 544.70 C462.74 545.25 463.71 541.28 464.10 543.60 C464.49 545.92 466.01 565.25 466.30 567.90 C466.59 570.55 466.66 572.31 467.00 570.10 C467.34 567.89 469.21 549.22 469.70 545.80 C470.19 542.38 471.51 536.23 471.90 535.90 C472.29 535.57 473.21 540.40 473.60 542.50 C473.99 544.60 475.31 554.91 475.80 556.90 C476.29 558.89 478.01 560.97 478.50 562.40 C478.99 563.83 480.31 571.53 480.70 571.20 C481.09 570.87 482.01 561.64 482.40 559.10 C482.79 556.56 484.16 546.58 484.60 545.80 C485.04 545.02 486.42 552.84 486.80 551.30 C487.18 549.76 487.96 531.72 488.40 530.40 C488.84 529.08 490.70 536.78 491.20 538.10 C491.70 539.42 493.02 542.28 493.40 543.60 C493.78 544.92 494.62 549.97 495.00 551.30 C495.38 552.63 496.70 557.01 497.20 556.90 C497.70 556.79 499.50 549.87 500.00 550.20 C500.50 550.53 501.98 559.20 502.20 560.20" stroke="#34497a" stroke-width="1.6"/></g><path d="M327.5 552.5H510.3" stroke="#000" stroke-width="1.1"/><rect x="327.5" y="406.2" width="182.8" height="193.90000000000003" fill="none" stroke="#000" stroke-width="1.5"/><path d="M323.9 409.62H327.5" stroke="#000" stroke-width="1.1"/><text x="321.3" y="412.02" font-size="8.5" text-anchor="end" font-weight="normal" fill="#333" >0.20</text><path d="M323.9 445.34000000000003H327.5" stroke="#000" stroke-width="1.1"/><text x="321.3" y="447.74" font-size="8.5" text-anchor="end" font-weight="normal" fill="#333" >0.15</text><path d="M323.9 481.06H327.5" stroke="#000" stroke-width="1.1"/><text x="321.3" y="483.46" font-size="8.5" text-anchor="end" font-weight="normal" fill="#333" >0.10</text><path d="M323.9 516.78H327.5" stroke="#000" stroke-width="1.1"/><text x="321.3" y="519.18" font-size="8.5" text-anchor="end" font-weight="normal" fill="#333" >0.05</text><path d="M323.9 552.5H327.5" stroke="#000" stroke-width="1.1"/><text x="321.3" y="554.9" font-size="8.5" text-anchor="end" font-weight="normal" fill="#333" >0.00</text><path d="M323.9 588.22H327.5" stroke="#000" stroke-width="1.1"/><text x="321.3" y="590.62" font-size="8.5" text-anchor="end" font-weight="normal" fill="#333" >−0.05</text><path d="M335.75 600.1V603.1" stroke="#000" stroke-width="1.1"/><text x="335.75" y="612.5" font-size="8.5" text-anchor="middle" font-weight="normal" fill="#333" >−5000</text><path d="M377.5 600.1V603.1" stroke="#000" stroke-width="1.1"/><text x="377.5" y="612.5" font-size="8.5" text-anchor="middle" font-weight="normal" fill="#333" >−2500</text><path d="M419.25 600.1V603.1" stroke="#000" stroke-width="1.1"/><text x="419.25" y="612.5" font-size="8.5" text-anchor="middle" font-weight="normal" fill="#333" >0</text><path d="M461.0 600.1V603.1" stroke="#000" stroke-width="1.1"/><text x="461.0" y="612.5" font-size="8.5" text-anchor="middle" font-weight="normal" fill="#333" >2500</text><path d="M502.75 600.1V603.1" stroke="#000" stroke-width="1.1"/><text x="502.75" y="612.5" font-size="8.5" text-anchor="middle" font-weight="normal" fill="#333" >5000</text><text x="419.0" y="626.6" font-size="9.6" text-anchor="middle" fill="#111" stroke="#111" stroke-width="0.35" textLength="72.6" lengthAdjust="spacingAndGlyphs">Distance from CpG (bp)</text><text transform="translate(293.4,503.4) rotate(-90)" font-size="9.8" text-anchor="middle" fill="#111" textLength="52.7" lengthAdjust="spacingAndGlyphs">Enrichment score</text><path d="M443.5 421.4H454.5" stroke="#c8c8c8" stroke-width="1.4"/><text x="457.8" y="423.60" font-size="8.1" fill="#333" textLength="23.5" lengthAdjust="spacingAndGlyphs">RUNX1</text><path d="M443.5 433.09999999999997H454.5" stroke="#9c1540" stroke-width="1.8"/><text x="457.8" y="435.30" font-size="8.1" fill="#333" textLength="46.8" lengthAdjust="spacingAndGlyphs">TET2—RUNX1</text><path d="M443.5 444.79999999999995H454.5" stroke="#34497a" stroke-width="1.8"/><text x="457.8" y="447.00" font-size="8.1" fill="#333" textLength="46.8" lengthAdjust="spacingAndGlyphs">TET3—RUNX1</text>
</svg>
<div class="frame"></div>
</body></html>
